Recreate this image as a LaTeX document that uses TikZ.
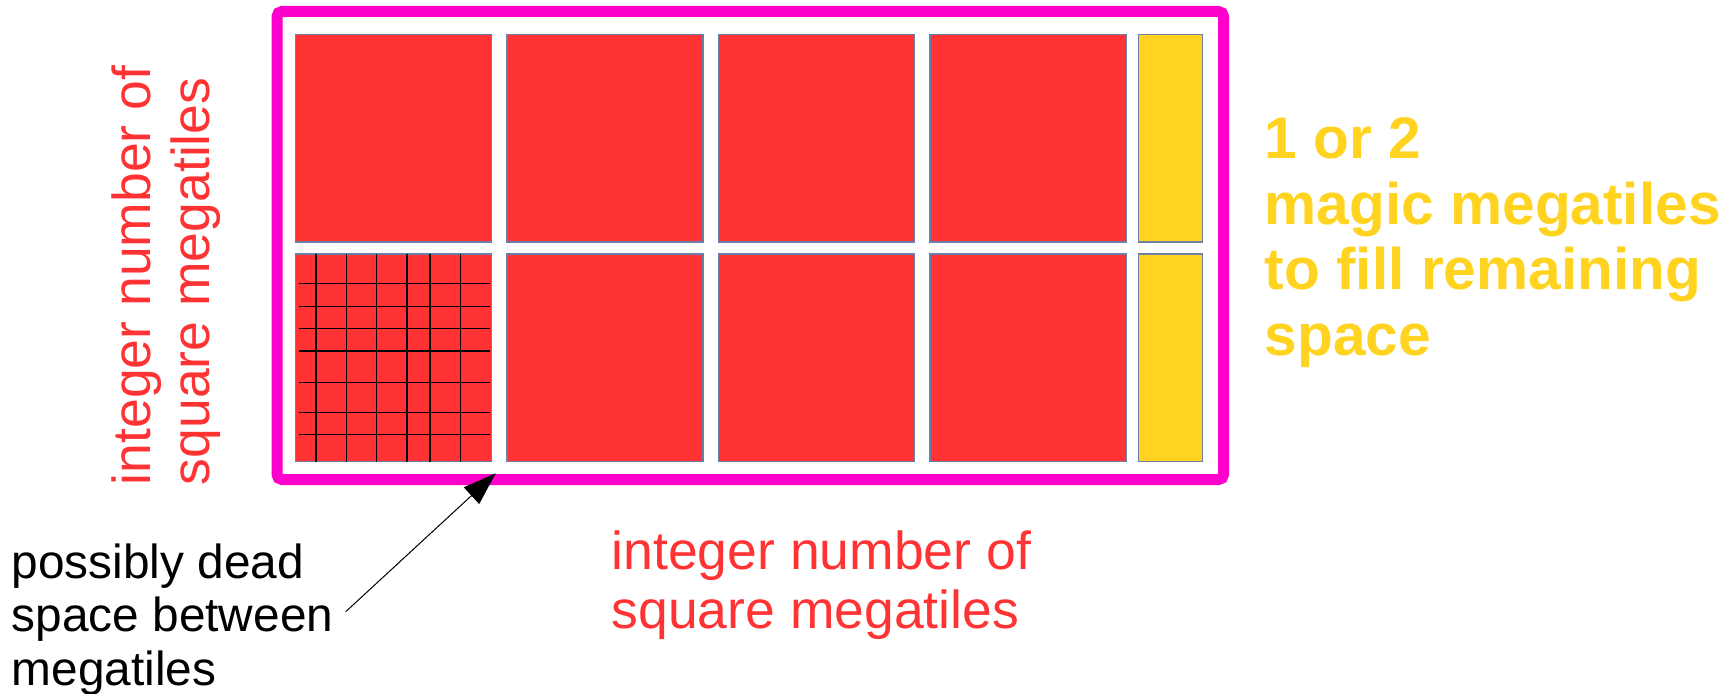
\documentclass[tikz,border=0pt]{standalone}
\usepackage{fontspec}
\setmainfont{Liberation Sans}
\usetikzlibrary{arrows.meta}
\definecolor{tilered}{HTML}{FF3333}
\definecolor{tileyellow}{HTML}{FFD320}
\definecolor{framepink}{HTML}{FF00CC}
\definecolor{tileedge}{HTML}{6B7FA8}
\tikzset{
  tile/.style={fill=tilered, draw=tileedge, line width=1.3pt},
  magictile/.style={fill=tileyellow, draw=tileedge, line width=1.3pt},
  frame/.style={draw=framepink, line width=11pt, rounded corners=5pt},
  gridline/.style={draw=black, line width=1.4pt},
  redlabel/.style={text=tilered, inner sep=0pt, align=left, font=\fontsize{53.5}{59}\selectfont},
  yellowlabel/.style={text=tileyellow, inner sep=0pt, align=left, font=\bfseries\fontsize{58.6}{65.7}\selectfont},
  blacklabel/.style={text=black, inner sep=0pt, align=left, font=\fontsize{47.8}{53.5}\selectfont},
  pointer/.style={draw=black, line width=1pt, -{Triangle[length=33pt, width=22.5pt]}}
}
\begin{document}
\begin{tikzpicture}[x=1pt, y=-1pt]
\useasboundingbox[fill=white] (0,0) rectangle (1736,693);
% frame
\draw[frame] (277,11.5) rectangle (1223.5,479.5);
% tiles row 1
\draw[tile] (295.5,34.5) rectangle (491.5,242);
\draw[tile] (507,34.5) rectangle (703,242);
\draw[tile] (718.5,34.5) rectangle (914.5,242);
\draw[tile] (930,34.5) rectangle (1126.5,242);
\draw[magictile] (1138.3,34.5) rectangle (1202.3,242);
% tiles row 2
\draw[tile] (295.5,254) rectangle (491.5,461.5);
\draw[tile] (507,254) rectangle (703,461.5);
\draw[tile] (718.5,254) rectangle (914.5,461.5);
\draw[tile] (930,254) rectangle (1126.5,461.5);
\draw[magictile] (1138.3,254) rectangle (1202.3,461.5);
% grid in first tile of row 2
\foreach \gx in {316,346.7,376.7,407,430,460.3}
  \draw[gridline] (\gx,254) -- (\gx,461.5);
\foreach \gy in {283.7,306.3,328.7,351,382.3,412.3,434.7}
  \draw[gridline] (299,\gy) -- (490.3,\gy);
% labels (base anchor = baseline of the last line)
\node[redlabel, rotate=90, anchor=base west] (vlabel) at (209.3,485.2) {integer number of\\square megatiles};
\node[redlabel, anchor=base west] (hlabel) at (611.5,628.3) {integer number of\\square megatiles};
\node[yellowlabel, anchor=base west] (magic) at (1264.6,355.4) {1 or 2\\magic megatiles\\to fill remaining\\space};
\node[blacklabel, anchor=base west] (dead) at (11.5,685) {possibly dead\\space between\\megatiles};
% arrow
\coordinate (tail) at (345.7,611.7);
\coordinate (tip) at (495.7,473.3);
\draw[pointer] (tail) -- (tip);
\end{tikzpicture}
\end{document}
